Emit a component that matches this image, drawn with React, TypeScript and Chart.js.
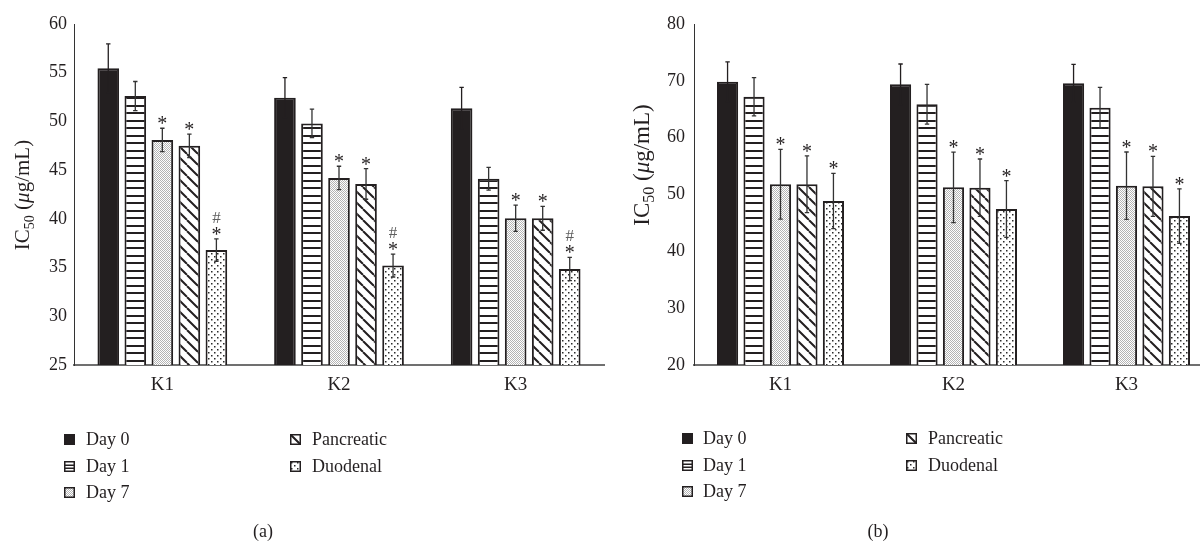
import React, { useEffect, useRef } from "react";
import { Chart, registerables } from "chart.js";
Chart.register(...registerables);

const FONT = '"Liberation Serif", "Times New Roman", serif';
const INK = "#231f20";

// ---------- data ----------
const categories = ["K1", "K2", "K3"];
const seriesNames = ["Day 0", "Day 1", "Day 7", "Pancreatic", "Duodenal"];

// panel (a)
const aDay0 = [55.45, 52.44, 51.35];
const aDay1 = [52.6, 49.8, 44.12];
const aDay7 = [48.1, 44.2, 40.06];
const aPancreatic = [47.5, 43.58, 40.06];
const aDuodenal = [36.8, 35.2, 34.85];
const aDay0Err = [2.5, 2.05, 2.15];
const aDay1Err = [1.5, 1.47, 1.17];
const aDay7Err = [1.2, 1.2, 1.34];
const aPancreaticErr = [1.2, 1.57, 1.23];
const aDuodenalErr = [1.15, 1.17, 1.2];
const aDay0Marks = ["", "", ""];
const aDay1Marks = ["", "", ""];
const aDay7Marks = ["*", "*", "*"];
const aPancreaticMarks = ["*", "*", "*"];
const aDuodenalMarks = ["#*", "#*", "#*"];
const aTickMin = 25;
const aTickMax = 60;
const aTickStep = 5;

// panel (b)
const bDay0 = [69.85, 69.39, 69.56];
const bDay1 = [67.2, 65.87, 65.27];
const bDay7 = [51.8, 51.26, 51.55];
const bPancreatic = [51.8, 51.2, 51.44];
const bDuodenal = [48.85, 47.45, 46.2];
const bDay0Err = [3.5, 3.57, 3.35];
const bDay1Err = [3.35, 3.5, 3.58];
const bDay7Err = [6.15, 6.2, 5.93];
const bPancreaticErr = [5.0, 5.05, 5.28];
const bDuodenalErr = [4.87, 4.98, 4.8];
const bDay0Marks = ["", "", ""];
const bDay1Marks = ["", "", ""];
const bDay7Marks = ["*", "*", "*"];
const bPancreaticMarks = ["*", "*", "*"];
const bDuodenalMarks = ["*", "*", "*"];
const bTickMin = 20;
const bTickMax = 80;
const bTickStep = 10;

// ---------- patterns ----------
function makeFills(): (string | CanvasPattern)[] {
  const mk = (w: number, h: number, draw: (c: CanvasRenderingContext2D) => void) => {
    const cv = document.createElement("canvas");
    cv.width = w;
    cv.height = h;
    const c = cv.getContext("2d")!;
    c.fillStyle = "#ffffff";
    c.fillRect(0, 0, w, h);
    draw(c);
    return c.createPattern(cv, "repeat")!;
  };
  const hLines = mk(4, 15, (c) => {
    c.fillStyle = INK;
    c.fillRect(0, 0, 4, 2);
    c.fillRect(0, 7, 4, 2);
  });
  const stipple = mk(2, 2, (c) => {
    c.fillStyle = "#b4b4b4";
    c.fillRect(0, 0, 1, 1);
    c.fillRect(1, 1, 1, 1);
  });
  const diag = mk(11, 11, (c) => {
    c.strokeStyle = INK;
    c.lineWidth = 2;
    c.beginPath();
    c.moveTo(-11, 0);
    c.lineTo(0, 11);
    c.moveTo(0, 0);
    c.lineTo(11, 11);
    c.moveTo(11, 0);
    c.lineTo(22, 11);
    c.stroke();
  });
  const dots = mk(6, 6, (c) => {
    c.fillStyle = "#2a2a2a";
    c.fillRect(1, 1, 1.5, 1.5);
    c.fillRect(4, 4, 1.5, 1.5);
  });
  return [INK, hLines, stipple, diag, dots];
}

type Spec = {
  values: number[][];
  errors: number[][];
  marks: string[][];
  yMin: number;
  yMax: number;
  yStep: number;
  canvasWidth: number;
  padding: { left: number; right: number; top: number; bottom: number };
  tickPad: number;
  yTitleX: number;
  yTitleY: number;
  yTitleSize: number;
  legendBoxX: number[];
  legendTextX: number[];
  legendRowY: number[];
  caption: string;
  captionX: number;
  captionY: number;
};

function drawYTitle(ctx: CanvasRenderingContext2D, cx: number, cy: number, size: number) {
  const parts = [
    { t: "IC", f: `${size}px ${FONT}`, dy: 0 },
    { t: "50", f: `${Math.round(size * 0.68)}px ${FONT}`, dy: size * 0.22 },
    { t: " (", f: `${size}px ${FONT}`, dy: 0 },
    { t: "\u03bc", f: `italic ${size}px ${FONT}`, dy: 0 },
    { t: "g/mL)", f: `${size}px ${FONT}`, dy: 0 },
  ];
  ctx.save();
  ctx.translate(cx, cy);
  ctx.rotate(-Math.PI / 2);
  let total = 0;
  const widths = parts.map((p) => {
    ctx.font = p.f;
    const w = ctx.measureText(p.t).width;
    total += w;
    return w;
  });
  let x = -total / 2;
  ctx.fillStyle = INK;
  ctx.textBaseline = "alphabetic";
  ctx.textAlign = "left";
  parts.forEach((p, i) => {
    ctx.font = p.f;
    ctx.fillText(p.t, x, size * 0.33 + p.dy);
    x += widths[i];
  });
  ctx.restore();
}

function makeDecor(spec: Spec, fills: (string | CanvasPattern)[]) {
  return {
    id: "decor",
    afterDatasetsDraw(chart: any) {
      const ctx: CanvasRenderingContext2D = chart.ctx;
      const ys = chart.scales.y;
      ctx.save();
      spec.values.forEach((vals, i) => {
        const meta = chart.getDatasetMeta(i);
        vals.forEach((v, j) => {
          const bar = meta.data[j];
          const e = spec.errors[i][j];
          const yT = ys.getPixelForValue(v + e);
          const yB = ys.getPixelForValue(v - e);
          ctx.strokeStyle = i === 0 ? INK : "#333333";
          ctx.lineWidth = 1.3;
          ctx.beginPath();
          ctx.moveTo(bar.x, yB);
          ctx.lineTo(bar.x, yT);
          ctx.moveTo(bar.x - 2.2, yT);
          ctx.lineTo(bar.x + 2.2, yT);
          ctx.moveTo(bar.x - 2.2, yB);
          ctx.lineTo(bar.x + 2.2, yB);
          ctx.stroke();
          const m = spec.marks[i][j];
          if (m) {
            let base = yT + 2;
            const chars = m.split("").reverse();
            ctx.textAlign = "center";
            ctx.textBaseline = "alphabetic";
            chars.forEach((c) => {
              if (c === "*") {
                ctx.font = `20px ${FONT}`;
                ctx.fillStyle = INK;
                ctx.fillText("*", bar.x, base);
                base -= 18;
              } else {
                ctx.font = `17px ${FONT}`;
                ctx.fillStyle = "#606060";
                ctx.fillText(c, bar.x, base);
                base -= 15;
              }
            });
          }
        });
      });
      ctx.restore();
    },
    afterDraw(chart: any) {
      const ctx: CanvasRenderingContext2D = chart.ctx;
      ctx.save();
      drawYTitle(ctx, spec.yTitleX, spec.yTitleY, spec.yTitleSize);
      seriesNames.forEach((name, k) => {
        const col = k < 3 ? 0 : 1;
        const row = k < 3 ? k : k - 3;
        const bx = spec.legendBoxX[col];
        const cy = spec.legendRowY[row];
        const by = Math.round(cy - 5.5);
        ctx.save();
        ctx.translate(bx, by);
        if (k === 1) {
          ctx.fillStyle = "#ffffff";
          ctx.fillRect(0, 0, 11, 11);
          ctx.fillStyle = INK;
          ctx.fillRect(0, 3.5, 11, 1.5);
          ctx.fillRect(0, 6.5, 11, 1.5);
        } else {
          ctx.fillStyle = fills[k] as any;
          ctx.fillRect(0, 0, 11, 11);
        }
        ctx.restore();
        ctx.strokeStyle = INK;
        ctx.lineWidth = 1.5;
        ctx.strokeRect(bx + 0.75, by + 0.75, 9.5, 9.5);
        ctx.font = `18px ${FONT}`;
        ctx.fillStyle = INK;
        ctx.textAlign = "left";
        ctx.textBaseline = "middle";
        ctx.fillText(name, spec.legendTextX[col], cy + 1);
      });
      ctx.font = `18px ${FONT}`;
      ctx.textAlign = "center";
      ctx.textBaseline = "middle";
      ctx.fillStyle = INK;
      ctx.fillText(spec.caption, spec.captionX, spec.captionY);
      ctx.restore();
    },
  };
}

function Panel({ spec, left }: { spec: Spec; left: number }) {
  const ref = useRef<HTMLCanvasElement | null>(null);
  useEffect(() => {
    if (!ref.current) return;
    const fills = makeFills();
    const chart = new Chart(ref.current, {
      type: "bar",
      data: {
        labels: categories,
        datasets: seriesNames.map((name, i) => ({
          label: name,
          data: spec.values[i],
          backgroundColor: fills[i] as any,
          borderColor: INK,
          borderWidth: 2,
          borderSkipped: "start",
          categoryPercentage: 0.765,
          barPercentage: 0.8,
        })),
      },
      options: {
        responsive: false,
        animation: false,
        events: [],
        layout: { padding: spec.padding },
        plugins: {
          legend: { display: false },
          tooltip: { enabled: false },
          title: { display: false },
        },
        scales: {
          x: {
            grid: { display: false, drawTicks: false },
            border: { display: true, color: "#707070", width: 2 },
            ticks: { font: { family: FONT, size: 19 }, color: INK, padding: 9 },
            afterFit: (s: any) => {
              s.height = 40;
            },
          },
          y: {
            min: spec.yMin,
            max: spec.yMax,
            grid: { display: false, drawTicks: false },
            border: { display: true, color: "#333333", width: 1 },
            ticks: {
              stepSize: spec.yStep,
              font: { family: FONT, size: 18 },
              color: INK,
              padding: spec.tickPad,
            },
            afterFit: (s: any) => {
              s.width = 50;
            },
          },
        },
      },
      plugins: [makeDecor(spec, fills) as any],
    });
    return () => chart.destroy();
  }, [spec]);
  return (
    <canvas
      ref={ref}
      width={spec.canvasWidth}
      height={542}
      style={{ position: "absolute", left, top: 0, width: spec.canvasWidth, height: 542 }}
    />
  );
}

const specA: Spec = {
  values: [aDay0, aDay1, aDay7, aPancreatic, aDuodenal],
  errors: [aDay0Err, aDay1Err, aDay7Err, aPancreaticErr, aDuodenalErr],
  marks: [aDay0Marks, aDay1Marks, aDay7Marks, aPancreaticMarks, aDuodenalMarks],
  yMin: aTickMin,
  yMax: aTickMax,
  yStep: aTickStep,
  canvasWidth: 620,
  padding: { left: 24, right: 16, top: 24, bottom: 137 },
  tickPad: 7,
  yTitleX: 22,
  yTitleY: 195,
  yTitleSize: 21,
  legendBoxX: [64, 290],
  legendTextX: [86, 312],
  legendRowY: [439, 466, 492],
  caption: "(a)",
  captionX: 263,
  captionY: 532,
};

const specB: Spec = {
  values: [bDay0, bDay1, bDay7, bPancreatic, bDuodenal],
  errors: [bDay0Err, bDay1Err, bDay7Err, bPancreaticErr, bDuodenalErr],
  marks: [bDay0Marks, bDay1Marks, bDay7Marks, bPancreaticMarks, bDuodenalMarks],
  yMin: bTickMin,
  yMax: bTickMax,
  yStep: bTickStep,
  canvasWidth: 640,
  padding: { left: 44, right: 27, top: 24, bottom: 137 },
  tickPad: 9,
  yTitleX: 41,
  yTitleY: 165,
  yTitleSize: 23,
  legendBoxX: [82, 306],
  legendTextX: [103, 328],
  legendRowY: [438, 465, 491],
  caption: "(b)",
  captionX: 278,
  captionY: 532,
};

export default function App() {
  return (
    <div
      style={{
        position: "fixed",
        left: 0,
        top: 0,
        width: 1200,
        height: 542,
        overflow: "hidden",
        background: "#ffffff",
      }}
    >
      <Panel spec={specA} left={0} />
      <Panel spec={specB} left={600} />
    </div>
  );
}
